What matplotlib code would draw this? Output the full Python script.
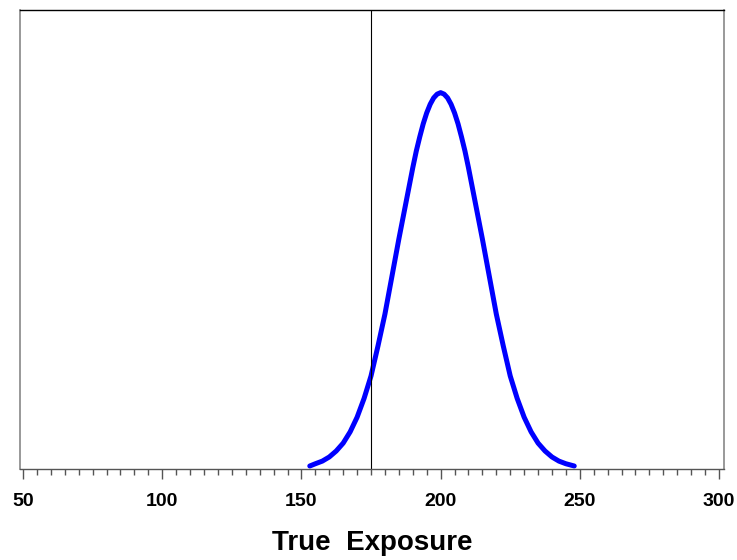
import matplotlib
matplotlib.use("Agg")
import matplotlib.pyplot as plt
from matplotlib.ticker import MultipleLocator

# values (relative height, peak = 1)
exposure = [153, 155, 157.5, 160, 162.5, 165, 167.5, 170, 172.5, 175,
            177.5, 180, 182.5, 185, 187.5, 190, 191.25, 192.5, 193.75, 195,
            196.25, 197.5, 198.75, 200, 201.25, 202.5, 203.75, 205, 206.25,
            207.5, 208.75, 210, 212.5, 215, 217.5, 220, 222.5, 225,
            227.5, 230, 232.5, 235, 237.5, 240, 242.5, 245, 248]
height = [0.005, 0.011, 0.018, 0.029, 0.045, 0.066, 0.096, 0.135, 0.185, 0.245,
          0.325, 0.41, 0.51, 0.61, 0.705, 0.80, 0.844, 0.882, 0.917, 0.946,
          0.969, 0.986, 0.996, 1.0, 0.996, 0.986, 0.969, 0.946, 0.917,
          0.882, 0.844, 0.80, 0.705, 0.61, 0.51, 0.41, 0.325, 0.245,
          0.185, 0.135, 0.096, 0.066, 0.045, 0.029, 0.018, 0.011, 0.005]
cutoff = 175
xticks = [50, 100, 150, 200, 250, 300]

plt.rcParams['font.family'] = ['Liberation Sans', 'DejaVu Sans']

fig = plt.figure(figsize=(7.37, 5.6), dpi=100)
ax = fig.add_axes([0.0271, 0.1625, 0.9553, 0.8195])

ax.plot(exposure, height, color='#0000FF', lw=3.6,
        solid_capstyle='round', solid_joinstyle='round')
ax.axvline(cutoff, color='black', lw=0.8)

ax.set_xlim(48.9, 301.8)
ax.set_ylim(-0.003, 1.22)
ax.set_yticks([])
ax.set_xticks(xticks)
ax.set_xticklabels([str(t) for t in xticks], fontsize=14, fontweight='bold')
ax.xaxis.set_minor_locator(MultipleLocator(5))
ax.tick_params(axis='x', which='major', direction='out', length=7, width=1, color='#555555', pad=10)
ax.tick_params(axis='x', which='minor', direction='out', length=4, width=1, color='#555555')

ax.spines['top'].set_color('black')
ax.spines['top'].set_linewidth(1)
for side in ['left', 'right']:
    ax.spines[side].set_color('#888888')
    ax.spines[side].set_linewidth(1.2)
ax.spines['bottom'].set_color('#555555')
ax.spines['bottom'].set_linewidth(1)

ax.set_xlabel('True  Exposure', fontsize=20, fontweight='bold', labelpad=15)

fig.savefig('out.png', dpi=100)
